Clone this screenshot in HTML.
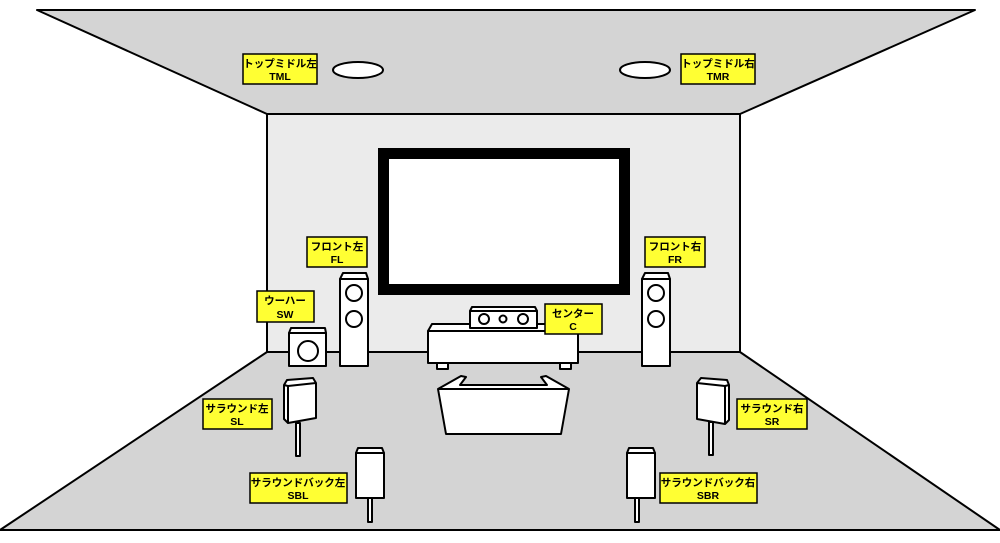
<!DOCTYPE html>
<html><head><meta charset="utf-8"><style>
html,body{margin:0;padding:0;background:#fff;}
svg{display:block;}
text{font-family:"Liberation Sans","Noto Sans CJK JP",sans-serif;font-weight:bold;font-size:10.5px;text-anchor:middle;fill:#000;}
</style></head><body>
<svg width="1000" height="543" viewBox="0 0 1000 543" xmlns="http://www.w3.org/2000/svg">
<g stroke="#000" stroke-width="2" stroke-linejoin="round">
<polygon points="37,10 975,10 740,114 267,114" fill="#d4d4d4"/>
<rect x="267" y="114" width="473" height="238" fill="#ebebeb"/>
<polygon points="267,352 740,352 1000,530 0,530" fill="#d4d4d4"/>
<line x1="0" y1="530" x2="1000" y2="530"/>
<ellipse cx="358" cy="70" rx="25" ry="8" fill="#fff"/>
<ellipse cx="645" cy="70" rx="25" ry="8" fill="#fff"/>
</g>
<rect x="378" y="148" width="252" height="147" fill="#000"/>
<rect x="389" y="159" width="230" height="125" fill="#fff"/>
<g stroke="#000" stroke-width="2" fill="#fff" stroke-linejoin="round">
<polygon points="340,279 343,273 366,273 368,279"/>
<rect x="340" y="279" width="28" height="87"/>
<circle cx="354" cy="293" r="8"/><circle cx="354" cy="319" r="8"/>
<polygon points="642,279 645,273 668,273 670,279"/>
<rect x="642" y="279" width="28" height="87"/>
<circle cx="656" cy="293" r="8"/><circle cx="656" cy="319" r="8"/>
<polygon points="289,333 291,328 325,328 326,333"/>
<rect x="289" y="333" width="37" height="33"/>
<circle cx="308" cy="351" r="10"/>
<polygon points="428,331 432,324 575,324 578,331"/>
<rect x="428" y="331" width="150" height="32"/>
<rect x="437" y="363" width="11" height="6"/>
<rect x="560" y="363" width="11" height="6"/>
<polygon points="470,311 472,307 535,307 537,311"/>
<rect x="470" y="311" width="67" height="17"/>
<circle cx="484" cy="319" r="5"/><circle cx="503" cy="319" r="3.5"/><circle cx="523" cy="319" r="5"/>
<polygon points="438,389 461,376 466,377 460,385 547,385 541,377 546,376 569,389 561,434 446,434"/>
<line x1="438" y1="389" x2="569" y2="389"/>
<rect x="296" y="423" width="4" height="33"/>
<polygon points="284,385 287,380 313,378 316,383 316,418 288,423 284,419"/>
<polyline points="288,423 288,386 284,385" fill="none"/>
<line x1="288" y1="386" x2="316" y2="383"/>
<rect x="709" y="422" width="4" height="33"/>
<polygon points="697,383 701,378 727,380 729,385 729,420 725,424 697,419"/>
<polyline points="725,424 725,386 729,385" fill="none"/>
<line x1="697" y1="383" x2="725" y2="386"/>
<rect x="368" y="498" width="4" height="24"/>
<polygon points="356,453 358,448 382,448 384,453"/>
<rect x="356" y="453" width="28" height="45"/>
<rect x="635" y="498" width="4" height="24"/>
<polygon points="627,453 629,448 653,448 655,453"/>
<rect x="627" y="453" width="28" height="45"/>
</g>
<g fill="#ffff33" stroke="#000" stroke-width="1.5">
<rect x="243" y="54" width="74" height="30"/>
<rect x="681" y="54" width="74" height="30"/>
<rect x="307" y="237" width="60" height="30"/>
<rect x="645" y="237" width="60" height="30"/>
<rect x="257" y="291" width="57" height="31"/>
<rect x="545" y="304" width="57" height="30"/>
<rect x="203" y="399" width="69" height="30"/>
<rect x="737" y="399" width="70" height="30"/>
<rect x="250" y="473" width="97" height="30"/>
<rect x="660" y="473" width="97" height="30"/>
</g>
<g>
<text x="280" y="67">トップミドル左</text><text x="280" y="80">TML</text>
<text x="718" y="67">トップミドル右</text><text x="718" y="80">TMR</text>
<text x="337" y="250">フロント左</text><text x="337" y="263">FL</text>
<text x="675" y="250">フロント右</text><text x="675" y="263">FR</text>
<text x="285" y="304">ウーハー</text><text x="285" y="318">SW</text>
<text x="573" y="317">センター</text><text x="573" y="330">C</text>
<text x="237" y="412">サラウンド左</text><text x="237" y="425">SL</text>
<text x="772" y="412">サラウンド右</text><text x="772" y="425">SR</text>
<text x="298" y="486">サラウンドバック左</text><text x="298" y="499">SBL</text>
<text x="708" y="486">サラウンドバック右</text><text x="708" y="499">SBR</text>
</g>
</svg>
</body></html>
